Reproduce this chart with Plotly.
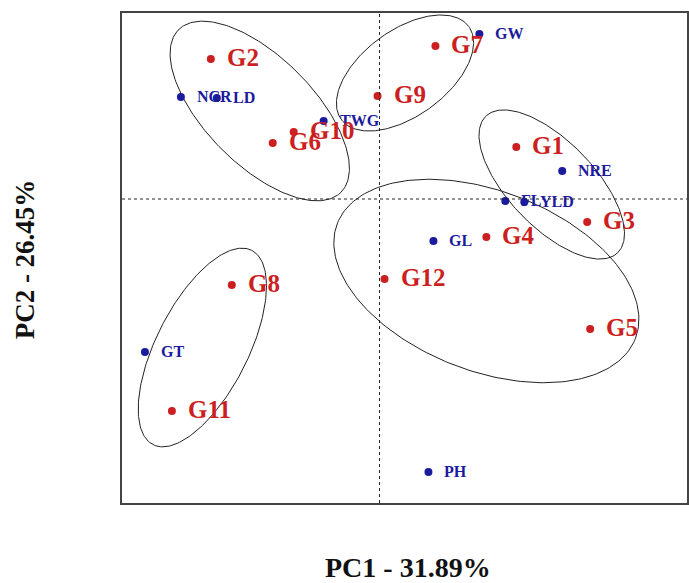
import numpy as np
import plotly.graph_objects as go

# Genotype scores (PC1, PC2)
genotypes = ["G1", "G2", "G3", "G4", "G5", "G6", "G7", "G8", "G9", "G10", "G11", "G12"]
g_pc1 = [1.37, -1.69, 2.08, 1.07, 2.11, -1.07, 0.56, -1.48, -0.02, -0.86, -2.08, 0.05]
g_pc2 = [0.52, 1.40, -0.23, -0.38, -1.30, 0.56, 1.53, -0.86, 1.03, 0.67, -2.12, -0.80]

# Trait loadings (PC1, PC2)
traits = ["NCR", "LD", "TWG", "GW", "NRE", "FL", "YLD", "GL", "PH", "GT"]
t_pc1 = [-1.99, -1.63, -0.56, 1.00, 1.83, 1.26, 1.45, 0.54, 0.49, -2.35]
t_pc2 = [1.02, 1.01, 0.78, 1.65, 0.28, -0.02, -0.03, -0.42, -2.73, -1.53]

# Cluster ellipses: centre, semi-axes, rotation (degrees)
ell_cx = [-1.20, 0.255, 1.725, 1.07, -1.775]
ell_cy = [0.88, 1.26, 0.145, -0.82, -1.485]
ell_a = [1.15, 0.79, 0.95, 1.60, 1.09]
ell_b = [0.54, 0.43, 0.43, 0.90, 0.46]
ell_ang = [-45, 36, -46, -21, 63]

RED = "#CC1F22"
BLUE = "#1B1B9E"
FONT = "Liberation Serif"

fig = go.Figure()

t = np.linspace(0, 2 * np.pi, 240)
for cx, cy, a, b, ang in zip(ell_cx, ell_cy, ell_a, ell_b, ell_ang):
    th = np.deg2rad(ang)
    ex = cx + a * np.cos(t) * np.cos(th) - b * np.sin(t) * np.sin(th)
    ey = cy + a * np.cos(t) * np.sin(th) + b * np.sin(t) * np.cos(th)
    fig.add_trace(go.Scatter(x=ex, y=ey, mode="lines",
                             line=dict(color="#222222", width=1),
                             hoverinfo="skip", showlegend=False))

fig.add_trace(go.Scatter(x=t_pc1, y=t_pc2, mode="markers",
                         marker=dict(color=BLUE, size=8),
                         showlegend=False))
fig.add_trace(go.Scatter(x=g_pc1, y=g_pc2, mode="markers",
                         marker=dict(color=RED, size=8),
                         showlegend=False))

for name, x, y in zip(traits, t_pc1, t_pc2):
    fig.add_annotation(x=x, y=y, text="<b>%s</b>" % name, showarrow=False,
                       xanchor="left", yanchor="middle", xshift=14, yshift=1,
                       font=dict(family=FONT, size=16, color=BLUE))
for name, x, y in zip(genotypes, g_pc1, g_pc2):
    fig.add_annotation(x=x, y=y, text="<b>%s</b>" % name, showarrow=False,
                       xanchor="left", yanchor="middle", xshift=14, yshift=2,
                       font=dict(family=FONT, size=25, color=RED))

# dotted reference lines through the origin
fig.add_shape(type="line", x0=0, x1=0, y0=0, y1=1, xref="x", yref="paper",
              line=dict(color="#222222", width=1, dash="dot"))
fig.add_shape(type="line", x0=0, x1=1, y0=0, y1=0, xref="paper", yref="y",
              line=dict(color="#222222", width=1, dash="dot"))

fig.add_annotation(text="<b>PC1 - 31.89%</b>", xref="paper", yref="paper",
                   x=0.506, y=-0.131, showarrow=False, xanchor="center", yanchor="middle",
                   font=dict(family=FONT, size=28, color="#111111"))
fig.add_annotation(text="<b>PC2 - 26.45%</b>", xref="paper", yref="paper",
                   x=-0.171, y=0.498, showarrow=False, textangle=-90,
                   xanchor="center", yanchor="middle",
                   font=dict(family=FONT, size=27, color="#111111"))

fig.update_xaxes(range=[-2.58, 3.08], showgrid=False, zeroline=False,
                 showticklabels=False, ticks="", showline=True, mirror=True,
                 linecolor="#444444", linewidth=1.5)
fig.update_yaxes(range=[-3.04, 1.86], showgrid=False, zeroline=False,
                 showticklabels=False, ticks="", showline=True, mirror=True,
                 linecolor="#444444", linewidth=1.5)

fig.update_layout(width=689, height=583,
                  margin=dict(l=122, r=0, t=13, b=80),
                  plot_bgcolor="white", paper_bgcolor="white",
                  showlegend=False)

fig.write_html("out.html", config={"displayModeBar": False},
               post_script="document.body.style.margin='0';"
                           "document.body.style.overflow='hidden';")
